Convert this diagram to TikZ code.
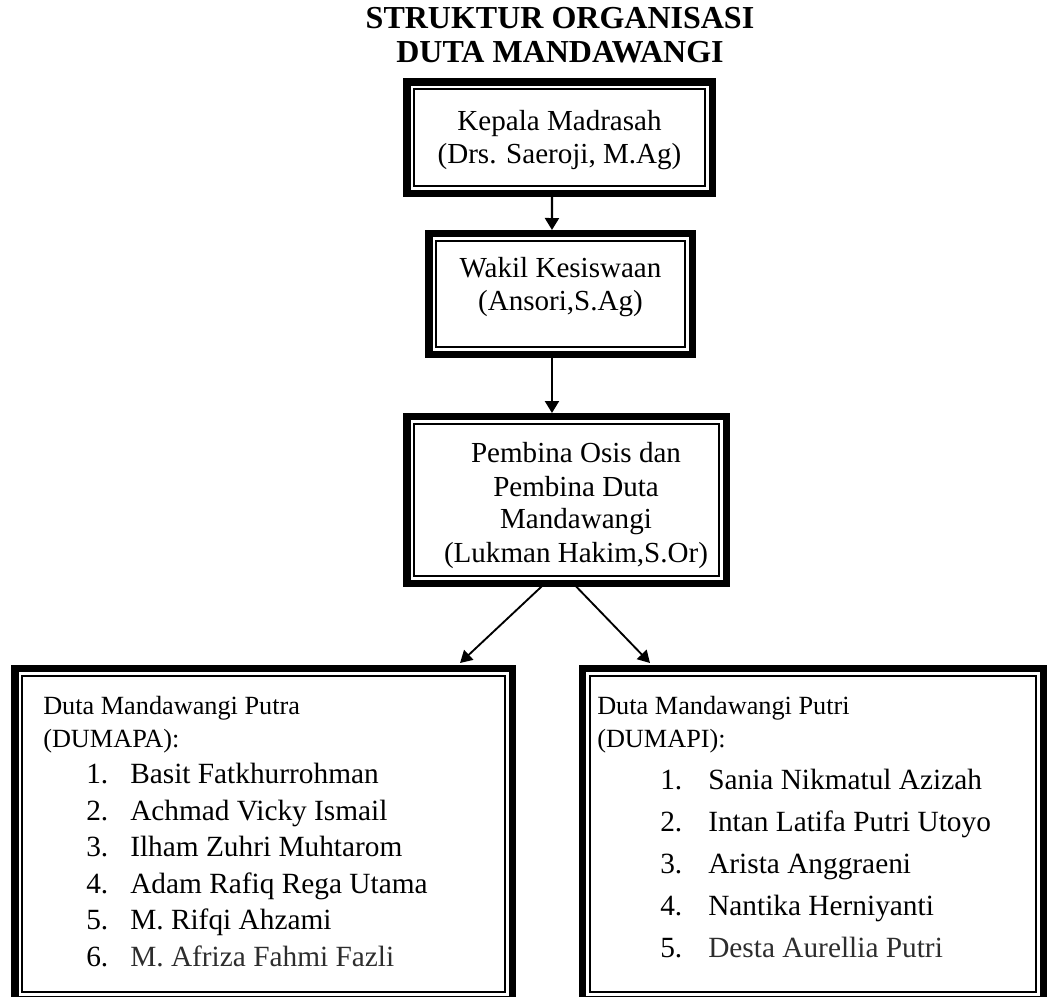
\documentclass[tikz,border=0pt]{standalone}
\usepackage{fontspec}
\setmainfont{Liberation Serif}
\usetikzlibrary{arrows.meta}
\definecolor{greytext}{RGB}{45,45,45}
\begin{document}
\begin{tikzpicture}[x=0.75pt,y=-0.75pt,
  frame/.style={draw=black, line width=5.6pt, inner sep=0pt, outer sep=0pt},
  inner frame/.style={draw=black, line width=1.2pt},
  arr/.style={line width=1.6pt, -{Triangle[length=9pt,width=10.5pt]}},
  darr/.style={line width=1.4pt, -{Triangle[length=9pt,width=10pt]}},
  titletxt/.style={inner sep=0pt, anchor=base, font=\fontsize{24}{28}\selectfont\bfseries},
  boxtxt/.style={inner sep=0pt, anchor=base, font=\fontsize{21.8}{26}\selectfont},
  headtxt/.style={inner sep=0pt, anchor=base west, font=\fontsize{19.7}{24}\selectfont},
  itemtxt/.style={inner sep=0pt, anchor=base west, font=\fontsize{22}{26}\selectfont}]
\useasboundingbox (0,0) rectangle (1048,996);
\clip (0,0) rectangle (1048,996);

% title
\node[titletxt] (title1) at (560,28) {STRUKTUR ORGANISASI};
\node[titletxt] (title2) at (560,62) {DUTA MANDAWANGI};

% frames
\node[frame, minimum width=229.1pt, minimum height=83.6pt] (b1) at (559.5,137.5) {};
\node[frame, minimum width=197.6pt, minimum height=90.4pt] (b2) at (560.5,294) {};
\node[frame, minimum width=239.6pt, minimum height=124.9pt] (b3) at (566.5,500) {};
\node[frame, minimum width=373.1pt, minimum height=247.9pt] (bl) at (263.5,834) {};
\node[frame, minimum width=345.4pt, minimum height=247.9pt] (br) at (813,834) {};
\foreach \n in {b1,b2,b3,bl,br}
  \draw[inner frame] ([shift={(5.3pt,-5.3pt)}]\n.north west) rectangle ([shift={(-5.3pt,5.3pt)}]\n.south east);

% box texts
\node[boxtxt] (k1) at (559.5,130) {Kepala Madrasah};
\node[boxtxt] (k2) at (559.5,163) {(Drs. Saeroji, M.Ag)};
\node[boxtxt] (w1) at (560.5,277) {Wakil Kesiswaan};
\node[boxtxt] (w2) at (560.5,310) {(Ansori,S.Ag)};
\node[boxtxt] (p1) at (576,462) {Pembina Osis dan};
\node[boxtxt] (p2) at (576,496) {Pembina Duta};
\node[boxtxt] (p3) at (576,528) {Mandawangi};
\node[boxtxt] (p4) at (576,562) {(Lukman Hakim,S.Or)};

% left list
\node[headtxt] (lh1) at (43,714) {Duta Mandawangi Putra};
\node[headtxt] (lh2) at (43,747) {(DUMAPA):};
\foreach \nm [count=\k] in {Basit Fatkhurrohman, Achmad Vicky Ismail, Ilham Zuhri Muhtarom, Adam Rafiq Rega Utama, M. Rifqi Ahzami, {\color{greytext}M. Afriza Fahmi Fazli}} {
  \node[itemtxt] (ln\k) at (86,{747+36.5*\k}) {\k.};
  \node[itemtxt] (lt\k) at (130,{747+36.5*\k}) {\nm};
}

% right list
\node[headtxt] (rh1) at (597,714) {Duta Mandawangi Putri};
\node[headtxt] (rh2) at (597,747) {(DUMAPI):};
\foreach \nm [count=\k] in {Sania Nikmatul Azizah, Intan Latifa Putri Utoyo, Arista Anggraeni, Nantika Herniyanti, {\color{greytext}Desta Aurellia Putri}} {
  \node[itemtxt] (rn\k) at (660,{747+42*\k}) {\k.};
  \node[itemtxt] (rt\k) at (708,{747+42*\k}) {\nm};
}

% connectors
\draw[arr, shorten >=2.8pt] ([xshift=-5.6pt]b1.south) -- ([xshift=-6.4pt]b2.north);
\draw[arr, shorten >=2.8pt] ([xshift=-6.4pt]b2.south) -- ([xshift=-10.9pt]b3.north);
\draw[darr] ([xshift=-16.1pt]b3.south) -- ([shift={(147.4pt,4.3pt)}]bl.north);
\draw[darr] ([xshift=4.9pt]b3.south) -- ([shift={(-122.25pt,4.3pt)}]br.north);
\end{tikzpicture}
\end{document}
